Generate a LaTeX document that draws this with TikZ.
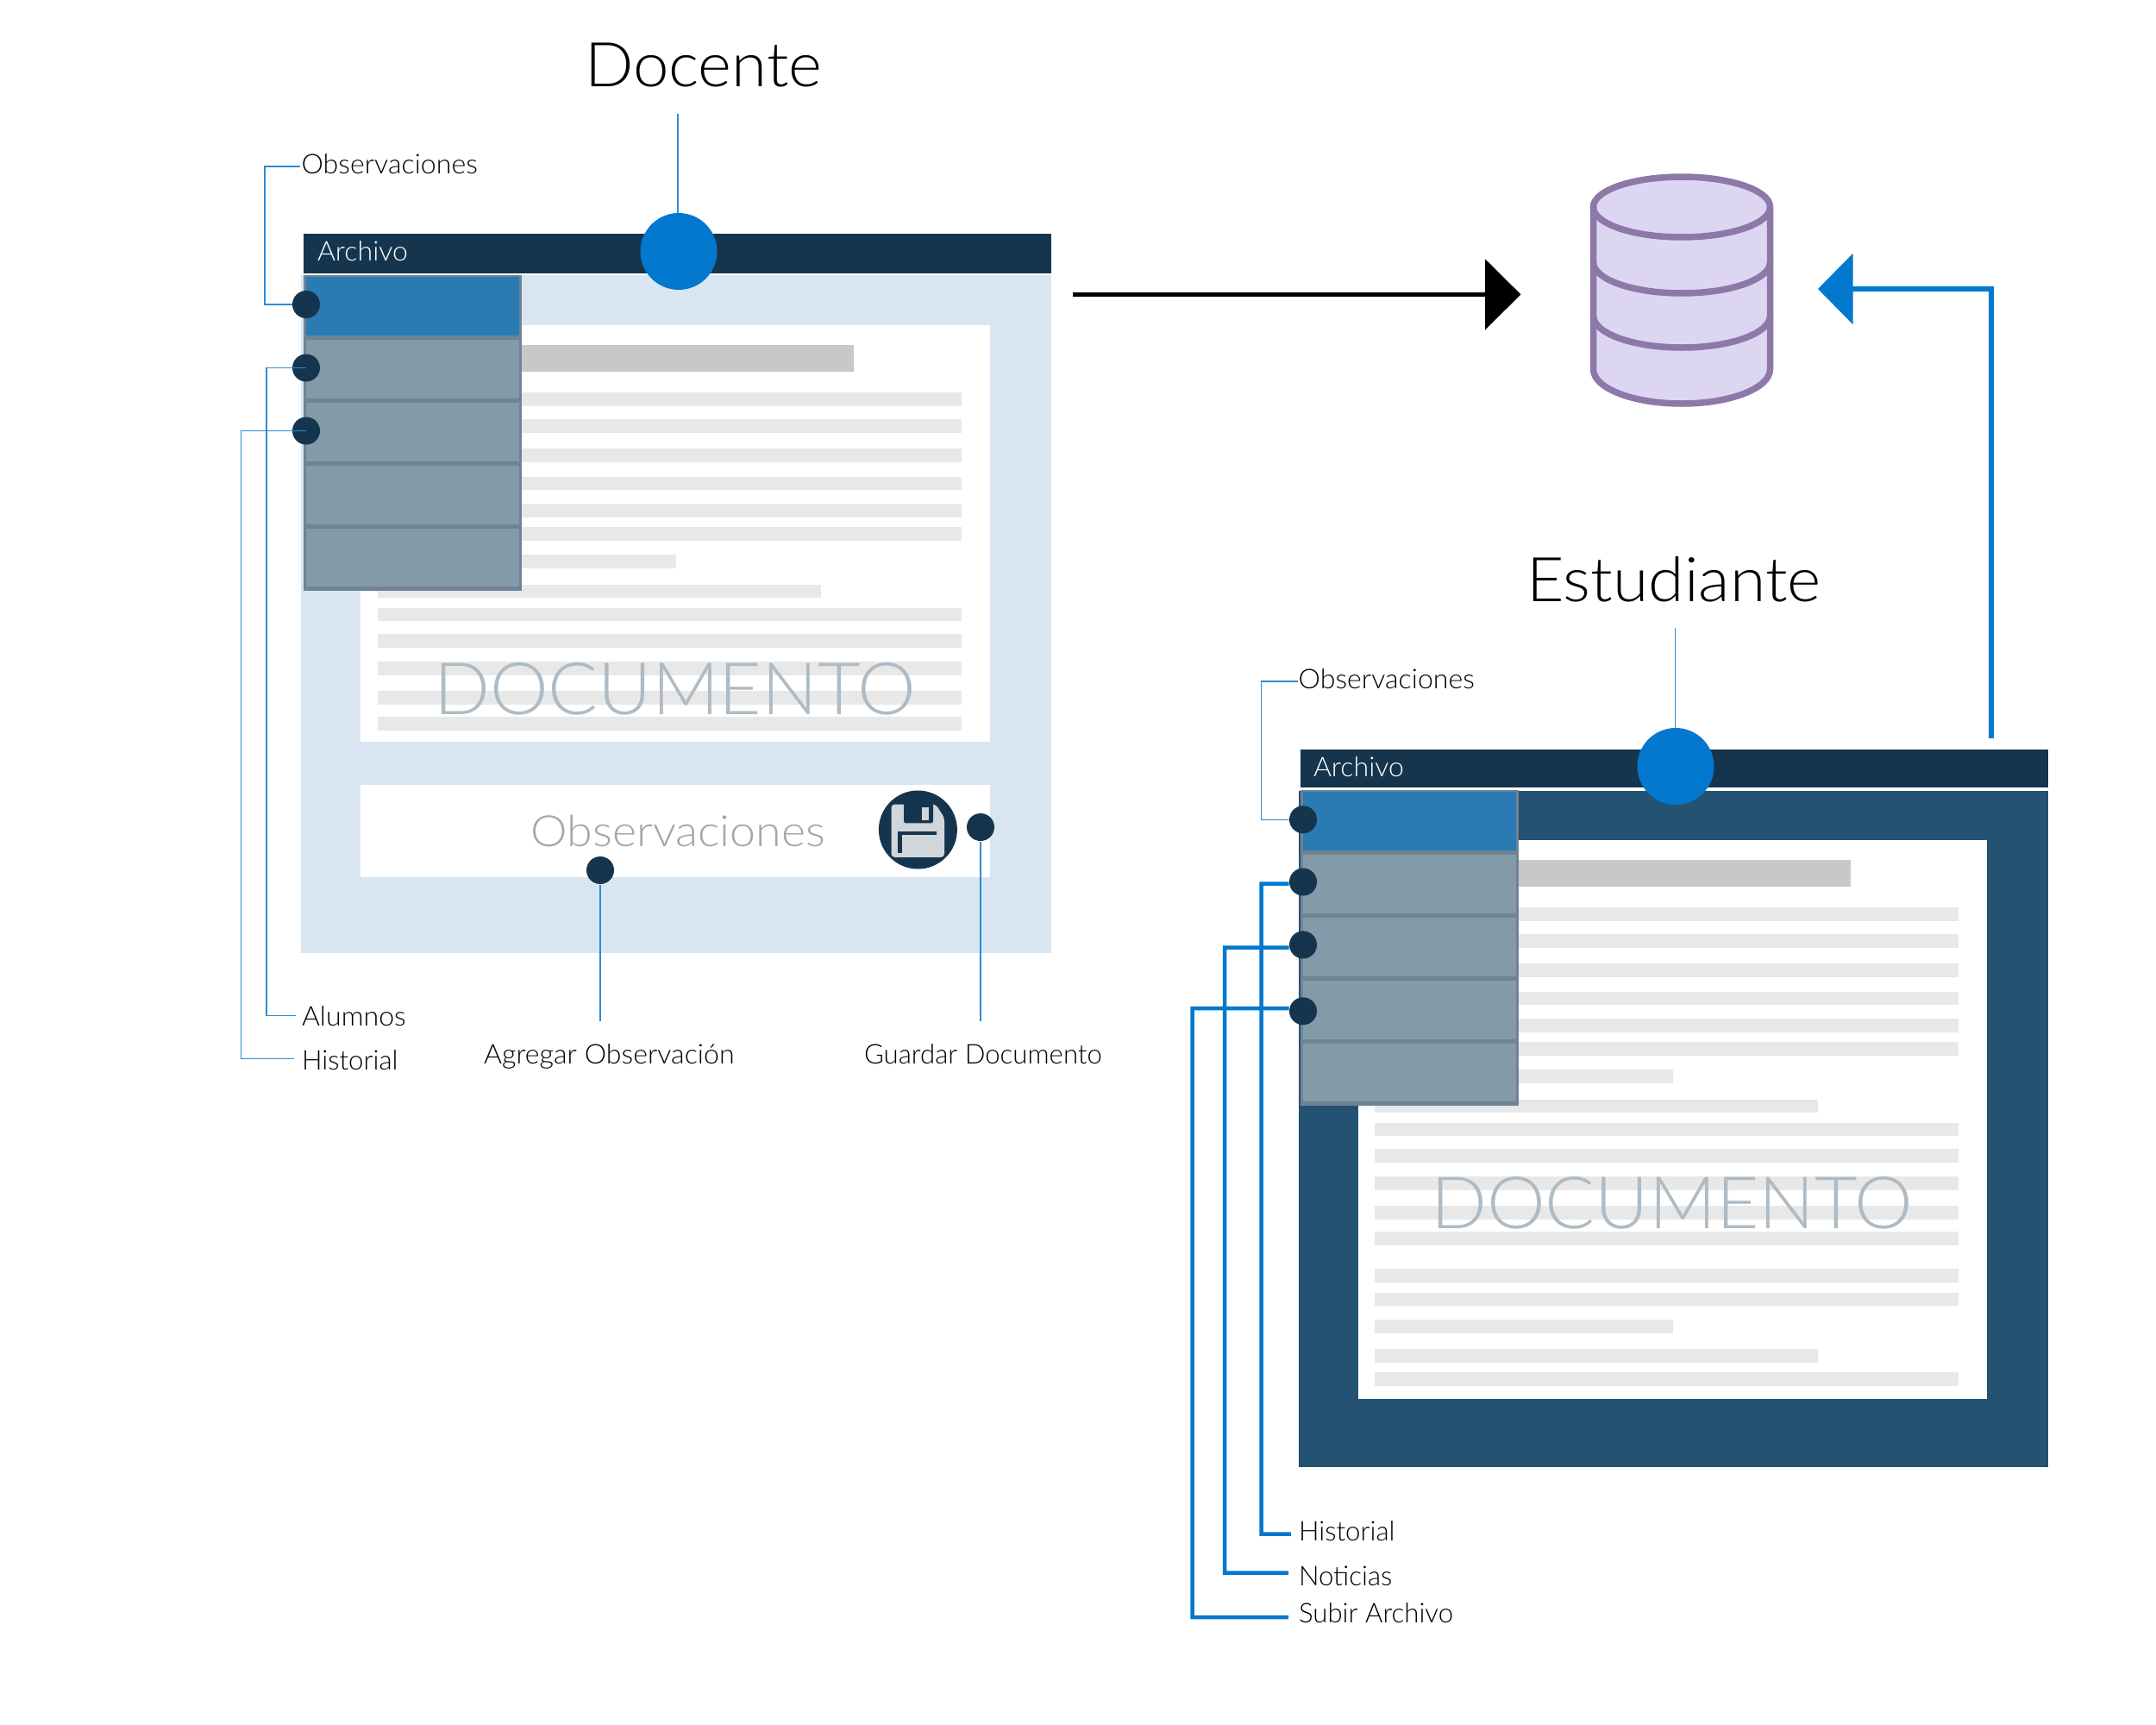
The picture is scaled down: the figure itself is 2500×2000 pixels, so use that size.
\documentclass[tikz,border=0pt]{standalone}
\usepackage{fontspec}
\usetikzlibrary{arrows.meta}
\setmainfont[FakeStretch=1.02]{Lato Light}
\newfontfamily\widelight[FakeStretch=1.075]{Lato Light}
\newfontfamily\titlelight[FakeStretch=1.04]{Lato Light}
\newfontfamily\titlelightb[FakeStretch=1.05]{Lato Light}
\newfontfamily\narrowlight[FakeStretch=0.99]{Lato Light}
\definecolor{navy}{HTML}{15354E}
\definecolor{paleblue}{HTML}{D9E6F1}
\definecolor{deepblue}{HTML}{245272}
\definecolor{menuedge}{HTML}{6E8394}
\definecolor{menurow}{HTML}{839AA9}
\definecolor{menusel}{HTML}{2A7AB4}
\definecolor{accent}{HTML}{0278CF}
\definecolor{leadthin}{HTML}{2A8CD8}
\definecolor{barlight}{HTML}{E8E8E8}
\definecolor{bardark}{HTML}{C8C8C8}
\definecolor{wm}{HTML}{AFBBC4}
\definecolor{obsgrey}{HTML}{A6A6A6}
\definecolor{dbfill}{HTML}{DDD6F3}
\definecolor{dbline}{HTML}{8E78A8}
\definecolor{floppy}{HTML}{D1D6DB}
\tikzset{
  px/.style={x=0.4pt,y=-0.4pt},
  dotn/.style={circle,fill=navy,minimum size=12.8pt,inner sep=0pt},
  bign/.style={circle,fill=accent,minimum size=35.6pt,inner sep=0pt},
  lab/.style={anchor=base west,inner sep=0pt,outer sep=0pt,text=black,font=\fontsize{12.6pt}{15pt}\selectfont},
  labn/.style={anchor=base west,inner sep=0pt,outer sep=0pt,text=black,font=\narrowlight\fontsize{12.6pt}{15pt}\selectfont},
  ttl/.style={anchor=base west,inner sep=0pt,outer sep=0pt,text=black,font=\titlelight\fontsize{28.6pt}{34pt}\selectfont},
  bartxt/.style={anchor=base west,inner sep=0pt,outer sep=0pt,text=white,font=\fontsize{12.6pt}{15pt}\selectfont},
  wmark/.style={anchor=base west,inner sep=0pt,outer sep=0pt,text=wm,font=\fontsize{33.6pt}{40pt}\selectfont},
  thinlead/.style={draw=leadthin,line width=0.45pt},
  thicklead/.style={draw=accent,line width=1.8pt},
}
\newcommand{\menubox}{%
  \fill[menuedge] (351.5,318.6) rectangle (605,685);
  \fill[menusel] (355,321.4) rectangle (601.5,389);
  \fill[menurow] (355,394) rectangle (601.5,462);
  \fill[menurow] (355,467) rectangle (601.5,535);
  \fill[menurow] (355,540) rectangle (601.5,608);
  \fill[menurow] (355,612.5) rectangle (601.5,680);
}
\newcommand{\docbars}{%
  \fill[bardark] (438,399.6) rectangle (990,431);
  \foreach \ya/\yb/\xr in {455.4/470.7/1115,486.4/501.8/1115,520.4/535.7/1115,552.5/567.5/1115,584.3/599.6/1115,611.4/626.8/1115,643/658.6/783.7,677.5/692.9/952,704.5/720.2/1115,735/750.8/1115,767.3/783/1115,801/817/1115,831/846.9/1115}
    {\fill[barlight] (438,\ya) rectangle (\xr,\yb);}
}
\begin{document}
\begin{tikzpicture}[px]
\useasboundingbox (0,0) rectangle (2500,2000);
\fill[white] (0,0) rectangle (2500,2000);

% ---------- left window
\fill[paleblue] (349,318.6) rectangle (1219,1105);
\fill[white] (418,377) rectangle (1147.5,860);
\fill[white] (418,910) rectangle (1147.5,1017);
\fill[navy] (351.5,271.4) rectangle (1219,316.8);
\docbars
\menubox
\node[wmark] (docL) at (503,828) {DOCUMENTO};
\node[anchor=base west,inner sep=0pt,text=obsgrey,font=\widelight\fontsize{20pt}{24pt}\selectfont] (obsbox) at (615,981.6) {Observaciones};
\node[bartxt] (arcL) at (368,302.5) {Archivo};

% save icon
\node[circle,fill=navy,minimum size=36.4pt,inner sep=0pt] (save) at (1064.4,962) {};
\fill[floppy,rounded corners=1.5pt] (1033.6,932.6) -- (1085,932.6) -- (1095,948) -- (1095,993.8) -- (1033.6,993.8) -- cycle;
\fill[navy,rounded corners=1pt] (1048,931) rectangle (1082,954.4);
\fill[floppy] (1068.5,935.6) rectangle (1077,950.6);
\draw[navy,line width=1.8pt] (1043.6,989) -- (1043.6,966) -- (1086,966);

% dots and markers
\node[bign] (hubL) at (787,291.5) {};
\node[dotn] (dL1) at (355,353) {};
\node[dotn] (dL2) at (355,426.5) {};
\node[dotn] (dL3) at (355,499.5) {};
\node[dotn] (dAdd) at (696,1009) {};
\node[dotn] (dSave) at (1137,959) {};

% labels
\node[ttl] (docente) at (678,100) {Docente};
\node[lab] (lObsL) at (349.6,201.8) {Observaciones};
\node[lab] (lAlu) at (350,1189) {Alumnos};
\node[labn] (lHisL) at (350,1240) {Historial};
\node[lab] (lAdd) at (561,1233) {Agregar Observación};
\node[labn] (lGua) at (1002,1233) {Guardar Documento};

% left connectors
\coordinate (cDoc) at (786,132);
\coordinate (cObsL) at (348,193);
\coordinate (cAlu) at (343,1177.5);
\coordinate (cHisL) at (341,1227.6);
\coordinate (cAdd) at (696,1183.6);
\coordinate (cGua) at (1137,1183.6);
\draw[thinlead] (cDoc) -- (cDoc |- hubL.north);
\draw[thinlead] (cObsL) -- (307,193) |- (dL1.west);
\draw[thinlead] (dL2.center) -- (309,426.5) |- (cAlu);
\draw[thinlead] (dL3.center) -- (279.5,499.5) |- (cHisL);
\draw[thinlead] (dAdd.south) -- (cAdd);
\draw[thinlead] (dSave.south) -- (cGua);

% ---------- right window
\fill[deepblue] (1505.6,917) rectangle (2375,1701);
\fill[white] (1574.6,974) rectangle (2303.5,1622);
\fill[navy] (1507.7,869.3) rectangle (2375,913);
\begin{scope}[shift={(1156,597)}]
  \docbars
  \foreach \ya/\yb/\xr in {873.7/889.7/1115,901.6/916.9/1115,932.7/948.7/784,967/983/952,994.4/1009.7/1115}
    {\fill[barlight] (438,\ya) rectangle (\xr,\yb);}
  \menubox
\end{scope}
\node[wmark] (docR) at (1659,1424) {DOCUMENTO};
\node[bartxt] (arcR) at (1523,900) {Archivo};
\node[bign] (hubR) at (1943,888.5) {};
\node[dotn] (dR1) at (1511,950.2) {};
\node[dotn] (dR2) at (1511,1022.5) {};
\node[dotn] (dR3) at (1511,1095.4) {};
\node[dotn] (dR4) at (1511,1172.3) {};

\node[ttl,font=\titlelightb\fontsize{28.6pt}{34pt}\selectfont] (estudiante) at (1770,697) {Estudiante};
\node[lab] (lObsR) at (1505.7,798) {Observaciones};
\node[labn] (lHisR) at (1506,1786.4) {Historial};
\node[labn] (lNot) at (1506,1838) {Noticias};
\node[labn] (lSub) at (1506,1881) {Subir Archivo};

\coordinate (cEst) at (1942.5,728);
\coordinate (cObsR) at (1504.5,790);
\coordinate (cHisR) at (1497,1778.5);
\coordinate (cNot) at (1494,1823.5);
\coordinate (cSub) at (1494,1875);
\draw[thinlead] (cEst) -- (cEst |- hubR.north);
\draw[thinlead] (cObsR) -- (1462.5,790) |- (dR1.west);
\draw[thicklead] ([yshift=-0.8pt]dR2.west) -- (1462.5,1024.5) |- (cHisR);
\draw[thicklead] ([yshift=-1.3pt]dR3.west) -- (1420,1098.7) |- (cNot);
\draw[thicklead] ([yshift=1.3pt]dR4.west) -- (1382.6,1169) |- (cSub);

% ---------- database
\node[minimum width=84.8pt,minimum height=107.8pt,inner sep=0pt] (db) at (1950,336) {};
\begin{scope}[line width=3pt,draw=dbline,fill=dbfill]
  \filldraw (1847.5,240) -- (1847.5,428) arc[start angle=180,end angle=360,x radius=102.5,y radius=-40] -- (2052.5,240) arc[start angle=0,end angle=180,x radius=102.5,y radius=-35] -- cycle;
  \draw (1847.5,240) arc[start angle=180,end angle=360,x radius=102.5,y radius=-35];
  \draw (1847.5,304) arc[start angle=180,end angle=360,x radius=102.5,y radius=-36];
  \draw (1847.5,366) arc[start angle=180,end angle=360,x radius=102.5,y radius=-37];
\end{scope}

% ---------- main arrows
\coordinate (sendS) at (1244,341.4);
\coordinate (sendE) at (1763.5,341.4);
\coordinate (recvS) at (2308.6,856);
\coordinate (recvE) at (2108,335);
\draw[line width=2.3pt,-{Triangle[length=16.6pt,width=32.4pt]}] (sendS) -- (sendE);
\draw[accent,line width=2.3pt,-{Triangle[length=16.2pt,width=32.4pt]}] (recvS) |- (recvE);
\end{tikzpicture}
\end{document}
